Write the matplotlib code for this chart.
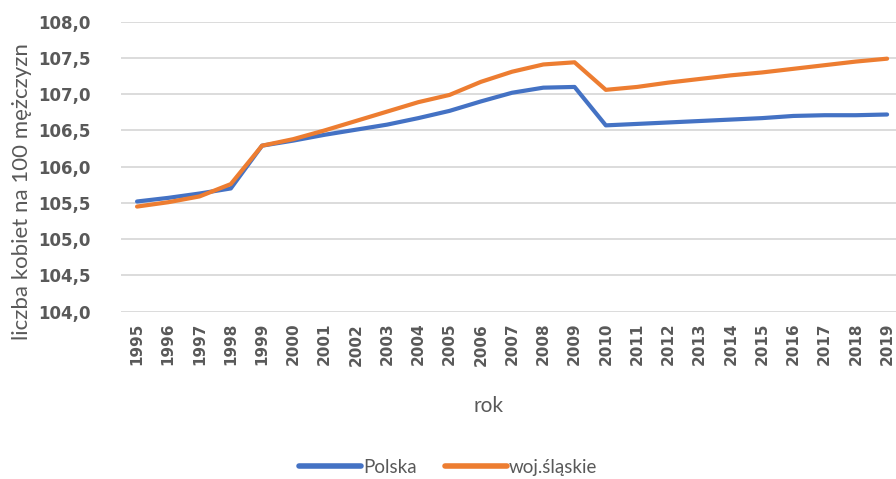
import matplotlib.pyplot as plt

# dane
years = [str(y) for y in range(1995, 2020)]
polska = [105.52, 105.57, 105.63, 105.70, 106.29, 106.36, 106.44, 106.51, 106.58, 106.67,
          106.77, 106.90, 107.02, 107.09, 107.10, 106.57, 106.59, 106.61, 106.63, 106.65,
          106.67, 106.70, 106.71, 106.71, 106.72]
slaskie = [105.45, 105.51, 105.59, 105.76, 106.29, 106.38, 106.50, 106.63, 106.76, 106.89,
           106.99, 107.17, 107.31, 107.41, 107.44, 107.06, 107.10, 107.16, 107.21, 107.26,
           107.30, 107.35, 107.40, 107.45, 107.49]
yticks = [104.0, 104.5, 105.0, 105.5, 106.0, 106.5, 107.0, 107.5, 108.0]

plt.rcParams['font.family'] = ['Lato', 'DejaVu Sans']
grey = '#595959'

fig = plt.figure(figsize=(8.96, 4.79), dpi=100)
ax = fig.add_axes([0.1355, 0.3493, 0.872, 0.6054])

x = range(len(years))
ax.plot(x, polska, color='#4472C4', lw=3, solid_capstyle='round', label='Polska', zorder=3)
ax.plot(x, slaskie, color='#ED7D31', lw=3, solid_capstyle='round', label='woj.śląskie', zorder=3)

ax.set_xlim(-0.5, len(years) - 0.5)
ax.set_ylim(104.0, 108.0)
ax.set_yticks(yticks)
ax.set_yticklabels([f'{v:.1f}'.replace('.', ',') for v in yticks],
                   fontsize=12, fontweight='bold', color=grey, family='DejaVu Sans')
ax.set_xticks(list(x))
ax.set_xticklabels(years, rotation=90, fontsize=11, fontweight='bold', color=grey,
                   family='DejaVu Sans')
ax.tick_params(length=0, pad=8)
ax.tick_params(axis='y', pad=22)
ax.grid(axis='y', color='#d9d9d9', lw=1.3)
ax.set_axisbelow(True)
for s in ax.spines.values():
    s.set_visible(False)

ax.set_ylabel('liczba kobiet na 100 mężczyzn', fontsize=16, color=grey)
ax.yaxis.set_label_coords(-0.115, 0.415)
ax.set_xlabel('rok', fontsize=15, color=grey)
ax.xaxis.set_label_coords(0.47, -0.29)

fig.legend(loc='center', bbox_to_anchor=(0.5, 0.025), ncol=2, frameon=False,
           fontsize=13.5, handlelength=3.3, handletextpad=0.1, columnspacing=1.5,
           labelcolor=grey)
for ln in fig.legends[0].get_lines():
    ln.set_linewidth(4)

fig.savefig('out.png', dpi=100)
